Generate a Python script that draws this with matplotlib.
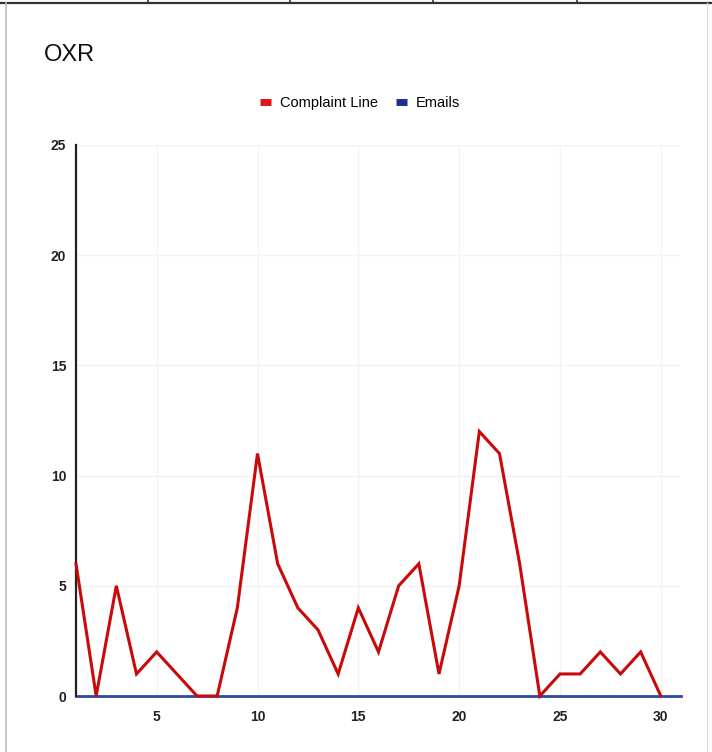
import matplotlib
matplotlib.use("Agg")
import matplotlib.pyplot as plt
from matplotlib.lines import Line2D

# ---------------- DATA ----------------
days = list(range(1, 31))
complaint_line = [6, 0, 5, 1, 2, 1, 0, 0, 4, 11, 6, 4, 3, 1, 4, 2, 5, 6, 1, 5,
                  12, 11, 6, 0, 1, 1, 2, 1, 2, 0]
email_days = list(range(1, 32))
emails = [0] * 31
y_ticks = [0, 5, 10, 15, 20, 25]
x_ticks = [5, 10, 15, 20, 25, 30]

plt.rcParams["font.family"] = ["Liberation Sans", "DejaVu Sans"]

# ---------------- FIGURE ----------------
W, H = 712, 752
fig = plt.figure(figsize=(W / 100, H / 100), dpi=100)
fig.patch.set_facecolor("white")

# scanned page frame: table row on top, side borders
fig.add_artist(Line2D([0, 1], [1 - 3 / H, 1 - 3 / H], color="#333333", lw=1.6))
for sx in [148, 290, 433, 577]:
    fig.add_artist(Line2D([sx / W, sx / W], [1 - 3 / H, 1], color="#333333", lw=1.2))
fig.add_artist(Line2D([6 / W, 6 / W], [0, 1 - 3 / H], color="#bbbbbb", lw=1.2))
fig.add_artist(Line2D([707 / W, 707 / W], [0, 1 - 3 / H], color="#dddddd", lw=1.0))

ax = fig.add_axes([76 / W, 1 - 696 / H, (681 - 76) / W, (696 - 145) / H])

ax.plot(days, complaint_line, color="#c80a0a", lw=2.2, solid_joinstyle="miter",
        label="Complaint Line", zorder=3, clip_on=False)
ax.plot(email_days, emails, color="#2e4a9e", lw=2.0, label="Emails", zorder=2,
        clip_on=False)

ax.set_xlim(1, 31)
ax.set_ylim(0, 25)
ax.set_xticks(x_ticks)
ax.set_yticks(y_ticks)
ax.tick_params(length=0, labelsize=10, colors="#222222")
ax.tick_params(axis="x", pad=10)
ax.tick_params(axis="y", pad=7)
for lbl in ax.get_xticklabels() + ax.get_yticklabels():
    lbl.set_fontweight("bold")

ax.grid(True, color="#f3f3f3", lw=1.0)
ax.set_axisbelow(True)
for s in ["top", "right", "bottom"]:
    ax.spines[s].set_visible(False)
ax.spines["left"].set_color("#222222")
ax.spines["left"].set_linewidth(1.6)

fig.text(44 / W, 1 - 55 / H, "OXR", fontsize=17, va="center", ha="left", color="#111111")

handles = [Line2D([], [], color="#e0141e", lw=5, solid_capstyle="butt"),
           Line2D([], [], color="#1f2f8a", lw=5, solid_capstyle="butt")]
fig.legend(handles, ["Complaint Line", "Emails"], loc="center",
           bbox_to_anchor=(360 / W, 1 - 103 / H), ncol=2, frameon=False,
           fontsize=10.5, handlelength=0.8, handletextpad=0.6, columnspacing=1.2)

fig.savefig("out.png", dpi=100)
